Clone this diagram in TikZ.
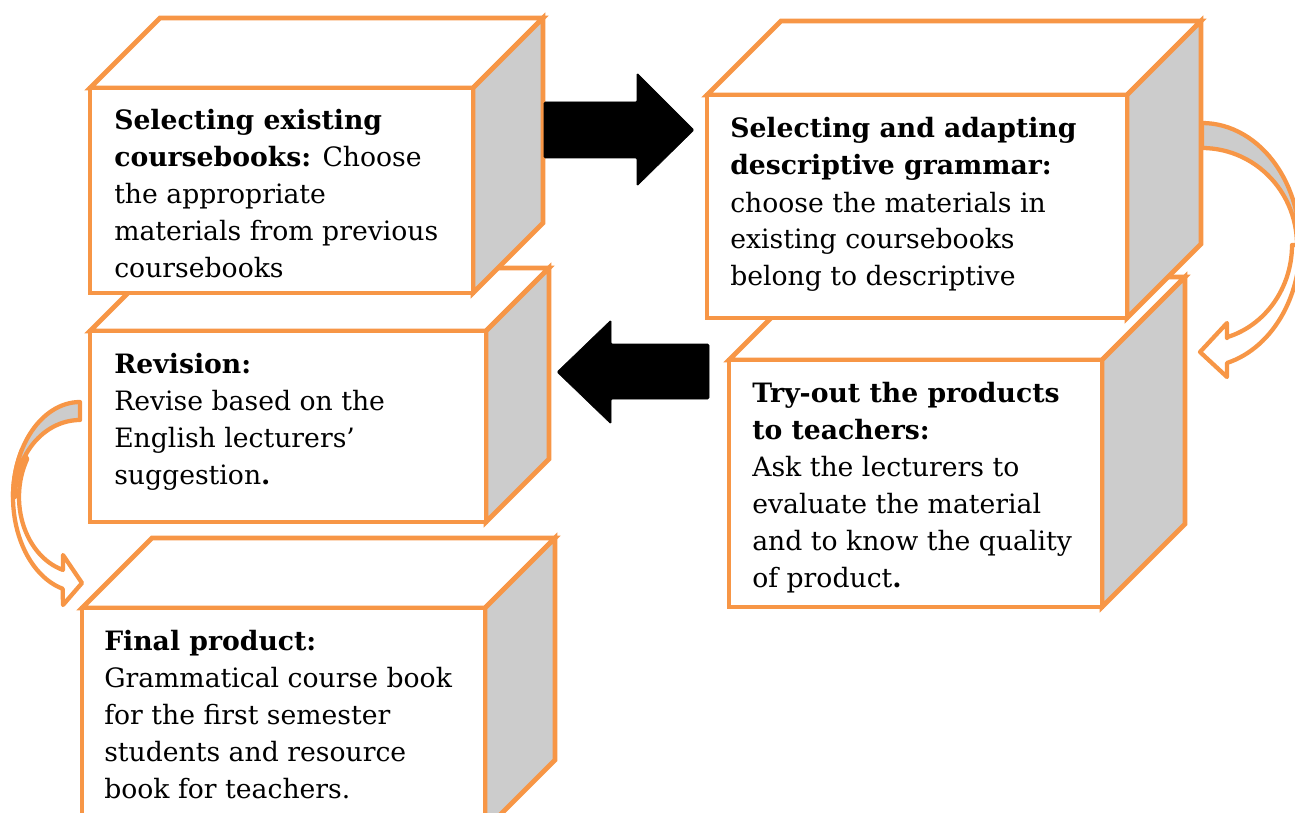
\documentclass[tikz,border=0pt]{standalone}
\usepackage{fontspec}
\setmainfont{DejaVu Serif}
\definecolor{boxorange}{HTML}{F79646}
\definecolor{sidegray}{HTML}{CCCCCC}
\tikzset{
  cubeline/.style={draw=boxorange, line width=3.5pt, line join=miter},
  curvearrow/.style={draw=boxorange, line width=3.2pt, line join=round},
  blockarrow/.style={fill=black, draw=black, line width=0.4pt, rounded corners=1pt},
  txt/.style={inner sep=0pt, anchor=base west, font=\fontsize{20pt}{27.75pt}\selectfont}
}
\newcommand{\cubebox}[5]{%
  \filldraw[cubeline, fill=white] (#1,#2) -- (#1+#5,#2-#5) -- (#3+#5,#2-#5) -- (#3,#2) -- cycle;
  \filldraw[cubeline, fill=sidegray] (#3,#2) -- (#3+#5,#2-#5) -- (#3+#5,#4-#5) -- (#3,#4) -- cycle;
  \filldraw[cubeline, fill=white] (#1,#2) rectangle (#3,#4);
}
\newcommand{\lns}[1]{\vtop{\baselineskip=27.75pt\lineskiplimit=-20pt #1}}
\begin{document}
\begin{tikzpicture}[x=0.75pt,y=-0.75pt]
\useasboundingbox (0,0) rectangle (1295,813);
\clip (0,0) rectangle (1295,813);

% cubes (back ones first)
\cubebox{90}{331}{486}{522}{63}
\cubebox{90}{88}{473}{293}{70}
\cubebox{729}{360}{1102}{607}{83}
\cubebox{707}{95}{1127}{318}{74}
\cubebox{82}{608}{485}{830}{70}

% texts
\node[txt] (t1) at (114,130) {\lns{\hbox{\textbf{Selecting existing}}\hbox{\textbf{coursebooks:} Choose}\hbox{the appropriate}\hbox{materials from previous}\hbox{coursebooks}}};
\node[txt] (t2) at (730,138) {\lns{\hbox{\textbf{Selecting and adapting}}\hbox{\textbf{descriptive grammar:}}\hbox{choose the materials in}\hbox{existing coursebooks}\hbox{belong to descriptive}}};
\node[txt] (t3) at (114,373) {\lns{\hbox{\textbf{Revision:}}\hbox{Revise based on the}\hbox{English lecturers’}\hbox{suggestion\textbf{.}}}};
\node[txt] (t4) at (752,402) {\lns{\hbox{\textbf{Try-out the products}}\hbox{\textbf{to teachers:}}\hbox{Ask the lecturers to}\hbox{evaluate the material}\hbox{and to know the quality}\hbox{of product\textbf{.}}}};
\node[txt] (t5) at (104,650) {\lns{\hbox{\textbf{Final product:}}\hbox{Grammatical course book}\hbox{for the first semester}\hbox{students and resource}\hbox{book for teachers.}}};

% black block arrows
\coordinate (ra) at (544,130);
\coordinate (la) at (709,372);
\filldraw[blockarrow] (ra) ++(0,-28) -- ++(93,0) -- ++(0,-29) -- ++(57,57) -- ++(-57,56) -- ++(0,-28) -- ++(-93,0) -- cycle;
\filldraw[blockarrow] (la) ++(0,-28) -- ++(-98,0) -- ++(0,-24) -- ++(-54,52) -- ++(54,52) -- ++(0,-25) -- ++(98,0) -- cycle;

% right curved arrow
\filldraw[curvearrow, fill=white]
  plot[variable=\t,domain=0:75.2,samples=30] ({1202+98*cos(\t)},{245+122*sin(\t)})
  -- (1227,377) -- (1200,352) -- (1227,323) -- (1227,338)
  -- plot[variable=\t,domain=73.9:0,samples=30] ({1202+90*cos(\t)},{245+96*sin(\t)}) -- cycle;
\filldraw[curvearrow, fill=sidegray]
  plot[variable=\t,domain=-90:0,samples=30] ({1202+98*cos(\t)},{245+122*sin(\t)})
  -- plot[variable=\t,domain=0:-90,samples=30] ({1202+95*cos(\t)},{245+97*sin(\t)}) -- cycle;

% left curved arrow
\filldraw[curvearrow, fill=white]
  plot[variable=\t,domain=-150:-255,samples=30] ({80+67*cos(\t)},{497+95*sin(\t)})
  -- (63,605) -- (82,583) -- (63,555) -- (63,570)
  -- plot[variable=\t,domain=-253.8:-150,samples=30] ({80+61*cos(\t)},{497+76*sin(\t)}) -- cycle;
\filldraw[curvearrow, fill=sidegray]
  plot[variable=\t,domain=-90:-180,samples=30] ({80+67*cos(\t)},{497+95*sin(\t)})
  -- plot[variable=\t,domain=-180:-90,samples=30] ({80+65*cos(\t)},{497+77*sin(\t)}) -- cycle;
\end{tikzpicture}
\end{document}
